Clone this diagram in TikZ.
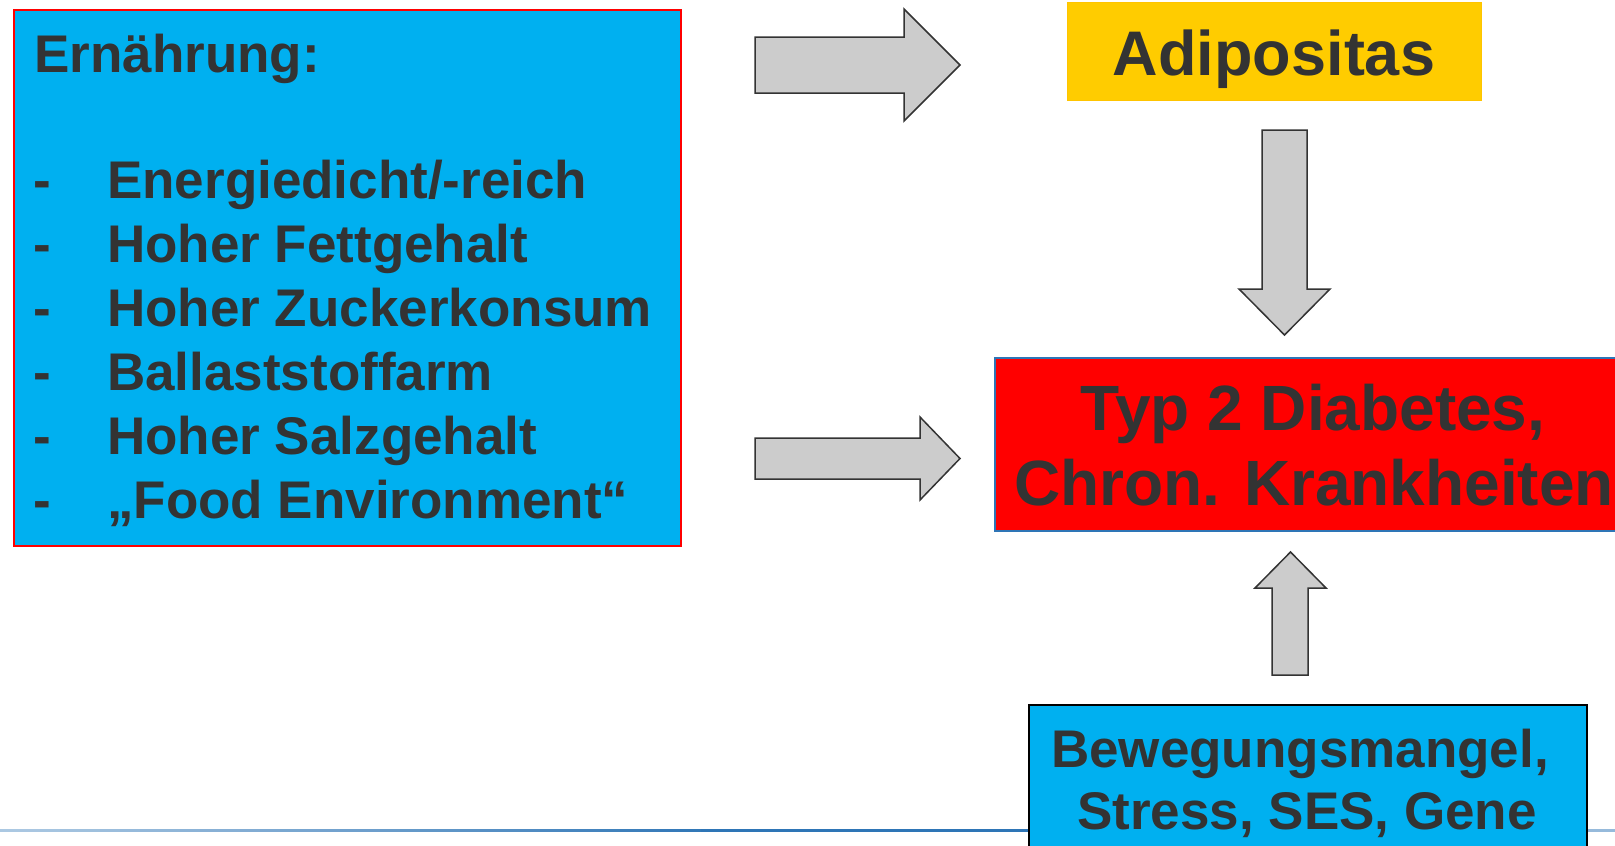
\documentclass[tikz,border=0pt]{standalone}
\usepackage{fontspec}
\setmainfont{Liberation Sans}
\usetikzlibrary{positioning}
\definecolor{hellblau}{HTML}{00B0F0}
\definecolor{gelb}{HTML}{FFCC00}
\definecolor{rot}{HTML}{FF0000}
\definecolor{schrift}{HTML}{333333}
\definecolor{pfeilgrau}{HTML}{CCCCCC}
\definecolor{rahmenblau}{HTML}{2E75B6}

\tikzset{
  kasten/.style={rectangle, inner sep=0pt, anchor=north west, line width=1.5pt},
  txt/.style={inner sep=0pt, text=schrift, font=\bfseries\fontsize{53}{64}\selectfont},
  gross/.style={inner sep=0pt, text=schrift, font=\bfseries\fontsize{64}{75}\selectfont},
  pfeil/.style={fill=pfeilgrau, draw=schrift, line width=1.5pt, line join=miter}
}

\begin{document}
\begin{tikzpicture}[x=1pt,y=-1pt]
\useasboundingbox (0,0) rectangle (1615,846);
\clip (0,0) rectangle (1615,846);

%ligne du bas
\fill[rahmenblau] (0,828.5) rectangle (1028,831.5);
\foreach \k in {0,...,34}{
  \pgfmathtruncatemacro{\p}{40+\k*60/35}
  \fill[rahmenblau!\p] ({\k*20},828.5) rectangle ({\k*20+20.5},831.5);
}
\fill[rahmenblau!50] (1028,828.5) rectangle (1615,831.5);

%boite ernaehrung
\node[kasten, draw=rot, fill=hellblau, minimum width=667pt, minimum height=536pt] (ernaehrung) at (13,9) {};
\node[txt, anchor=base west] (titel) at (34,72) {Ernährung:};
\foreach \t [count=\i] in {Energiedicht/-reich, Hoher Fettgehalt, Hoher Zuckerkonsum, Ballaststoffarm, Hoher Salzgehalt, „Food Environment“}{
  \node[txt, anchor=base west] (strich\i) at (33,{198+(\i-1)*64}) {-};
  \node[txt, anchor=base west] (punkt\i) at (107,{198+(\i-1)*64}) {\t};
}

%adipositas
\node[kasten, draw=gelb!90!orange, line width=1pt, fill=gelb, minimum width=414pt, minimum height=98pt] (adipositas) at (1067,2) {};
\node[gross, font=\bfseries\fontsize{63}{75}\selectfont, anchor=base] (adipotxt) at (1274,75) {Adipositas};

%diabetes
\node[kasten, draw=rahmenblau, fill=rot, minimum width=660pt, minimum height=173pt] (diabetes) at (994,357) {};
\node[gross, anchor=base] (typ) at (1313,430) {Typ 2 Diabetes,};
\node[gross, anchor=base] (chron) at (1314,505) {Chron. Krankheiten};

%bewegung
\node[kasten, draw=black, fill=hellblau, minimum width=558pt, minimum height=200pt] (bewegung) at (1028,704) {};
\node[txt, anchor=base] (beweg1) at (1300,767) {Bewegungsmangel,};
\node[txt, anchor=base] (beweg2) at (1307,829) {Stress, SES, Gene};

%fleches
\draw[pfeil] (755,37) -- (904,37) -- (904,9) -- (960,65) -- (904,121) -- (904,93) -- (755,93) -- cycle;
\draw[pfeil] (755,438) -- (920,438) -- (920,417) -- (960,458.5) -- (920,500) -- (920,479) -- (755,479) -- cycle;
\draw[pfeil] (1262,130) -- (1307,130) -- (1307,289) -- (1330,289) -- (1284.5,335) -- (1239,289) -- (1262,289) -- cycle;
\draw[pfeil] (1272,675) -- (1272,588) -- (1255,588) -- (1290.5,552) -- (1326,588) -- (1308,588) -- (1308,675) -- cycle;

\end{tikzpicture}
\end{document}
